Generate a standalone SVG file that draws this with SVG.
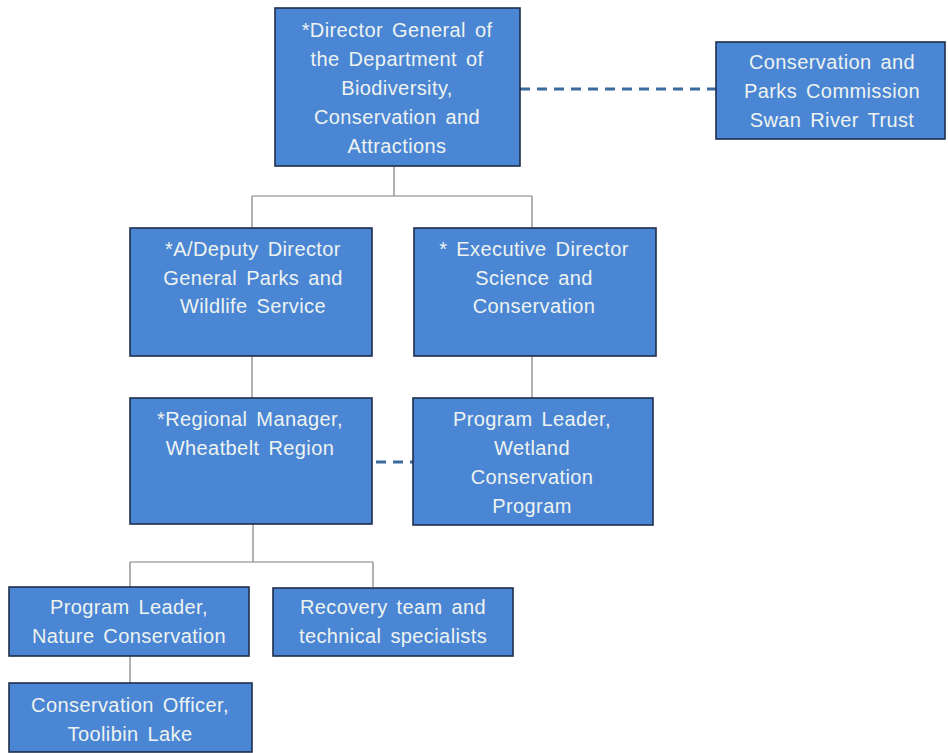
<svg xmlns="http://www.w3.org/2000/svg" width="948" height="753" viewBox="0 0 948 753">
<style>
.box{fill:#4A86D4;stroke:#1F2E4C;stroke-width:1.6}
.t{font-family:"Liberation Sans",Arial,sans-serif;font-size:20px;fill:#EEF3F0;text-anchor:middle;word-spacing:3px;letter-spacing:0.4px}
.ln{stroke:#808080;stroke-width:1.2;fill:none}
.dash{stroke:#3B6A9E;stroke-width:3;stroke-dasharray:10 7;fill:none}
</style>
<rect width="948" height="753" fill="#FFFFFF"/>
<g id="connectors">
<path class="ln" d="M394 166V196M252 196H532M252 196V228M532 196V228"/>
<path class="ln" d="M252 356V398M532 356V398"/>
<path class="ln" d="M253 524V562M130 562H373M130 562V587M373 562V587"/>
<path class="ln" d="M130 656V683"/>
<path class="dash" d="M520 89H716"/>
<path class="dash" d="M372 462H413" stroke-dashoffset="-4"/>
</g>
<g id="director-general">
<rect class="box" x="275" y="8" width="245" height="158"/>
<text class="t" x="397" y="37">*Director General of</text>
<text class="t" x="397" y="66">the Department of</text>
<text class="t" x="397" y="95">Biodiversity,</text>
<text class="t" x="397" y="124">Conservation and</text>
<text class="t" x="397" y="153">Attractions</text>
</g>
<g id="commission">
<rect class="box" x="716" y="42" width="229" height="97"/>
<text class="t" x="832" y="69">Conservation and</text>
<text class="t" x="832" y="98">Parks Commission</text>
<text class="t" x="832" y="127">Swan River Trust</text>
</g>
<g id="deputy-director">
<rect class="box" x="130" y="228" width="242" height="128"/>
<text class="t" x="253" y="256">*A/Deputy Director</text>
<text class="t" x="253" y="285">General Parks and</text>
<text class="t" x="253" y="313">Wildlife Service</text>
</g>
<g id="executive-director">
<rect class="box" x="414" y="228" width="242" height="128"/>
<text class="t" x="534" y="256">* Executive Director</text>
<text class="t" x="534" y="285">Science and</text>
<text class="t" x="534" y="313">Conservation</text>
</g>
<g id="regional-manager">
<rect class="box" x="130" y="398" width="242" height="126"/>
<text class="t" x="250" y="426">*Regional Manager,</text>
<text class="t" x="250" y="455">Wheatbelt Region</text>
</g>
<g id="wetland-program-leader">
<rect class="box" x="413" y="398" width="240" height="127"/>
<text class="t" x="532" y="426">Program Leader,</text>
<text class="t" x="532" y="455">Wetland</text>
<text class="t" x="532" y="484">Conservation</text>
<text class="t" x="532" y="513">Program</text>
</g>
<g id="nature-program-leader">
<rect class="box" x="9" y="587" width="240" height="69"/>
<text class="t" x="129" y="614">Program Leader,</text>
<text class="t" x="129" y="643">Nature Conservation</text>
</g>
<g id="recovery-team">
<rect class="box" x="273" y="588" width="240" height="68"/>
<text class="t" x="393" y="614">Recovery team and</text>
<text class="t" x="393" y="643">technical specialists</text>
</g>
<g id="conservation-officer">
<rect class="box" x="9" y="683" width="243" height="69"/>
<text class="t" x="130" y="712">Conservation Officer,</text>
<text class="t" x="130" y="741">Toolibin Lake</text>
</g>
</svg>
